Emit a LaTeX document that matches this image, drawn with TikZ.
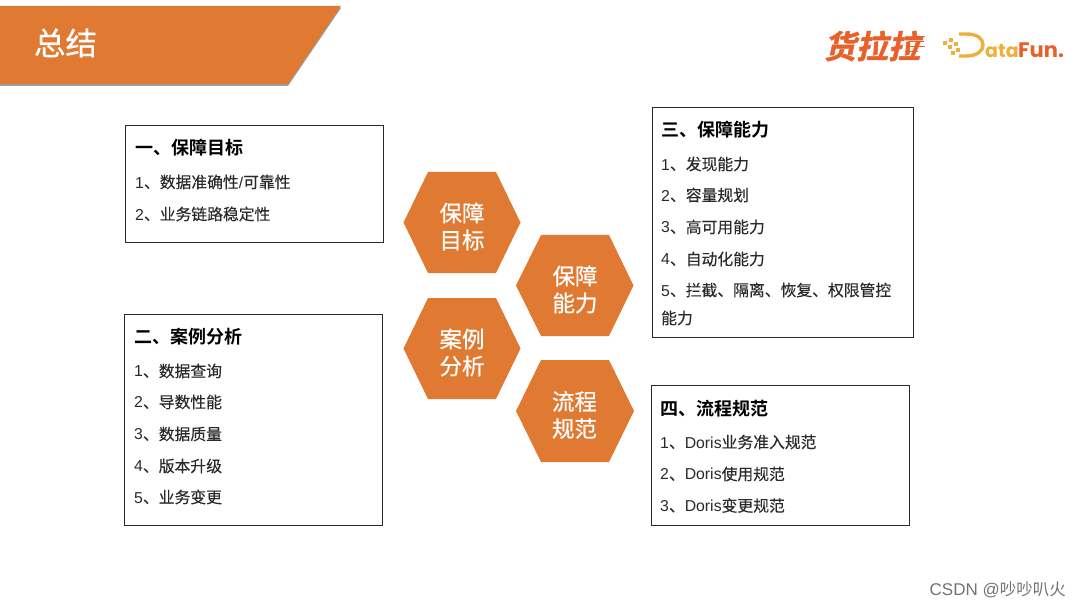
\documentclass[tikz,border=0pt]{standalone}
\usepackage{fontspec}
\setmainfont{Noto Sans CJK SC}
\newfontfamily\logofont[FakeSlant=0.22,FakeBold=1.5]{Noto Sans CJK SC Bold}
\newfontfamily\boldcjk{Noto Sans CJK SC Bold}
\newfontfamily\medcjk[FakeBold=0.6]{Noto Sans CJK SC}
\newfontfamily\itemcjk[FakeBold=0.15]{Noto Sans CJK SC}
\newfontfamily\funfont{Poppins}
\newfontfamily\lat{Liberation Sans}
\newcommand{\fs}[1]{\fontsize{#1}{#1}\selectfont}
\newcommand{\lt}[1]{{\lat #1}}
\definecolor{brandorange}{HTML}{E07A32}
\definecolor{inktext}{HTML}{2A2A2A}
\definecolor{logored}{HTML}{E8602A}
\definecolor{logogold}{HTML}{EDB03C}
\tikzset{
  infobox/.style={draw=inktext,line width=0.9pt,fill=white},
  hexa/.style={fill=brandorange,draw=none},
  headtext/.style={anchor=west,inner sep=0pt,text=black,font=\boldcjk\fs{18}},
  itemtext/.style={anchor=west,inner sep=0pt,text=inktext,font=\itemcjk\fs{15.8}},
  hextext/.style={inner sep=0pt,text=white,align=center,font=\medcjk\fontsize{22.5}{27}\selectfont},
  dotsq/.style={fill=logogold,draw=none,minimum size=3.2pt,inner sep=0pt}
}
\begin{document}
\begin{tikzpicture}[x=1pt,y=-1pt]
\useasboundingbox (0,0) rectangle (1080,607);
% banner
\fill[black!38] (0,8) -- (341,8) -- (288,86) -- (0,86) -- cycle;
\fill[brandorange] (0,6) -- (341,6) -- (288,84) -- (0,84) -- cycle;
\node[inner sep=0pt,text=white,font=\medcjk\fs{31.5}] (title) at (65.5,43) {总结};
% logos
\node[inner sep=0pt,text=logored,font=\logofont\fs{32}] (hll) at (872,46) {货拉拉};
\foreach \yy/\xa/\xb in {36/912/925,41/910/924,46/907/925,51/905/918}
  \draw[logored,line width=0.9pt] (\xa,\yy) -- (\xb,\yy);
\node[dotsq] (d1) at (945,43) {};
\node[dotsq] (d2) at (951,40) {};
\node[dotsq] (d3) at (950,47) {};
\node[dotsq] (d4) at (956,44) {};
\node[dotsq] (d5) at (953,53) {};
\node[dotsq] (d6) at (958,50) {};
\draw[logogold,line width=3.4pt] (959,34) -- (966,34) .. controls (978,34) and (983,39) .. (983,45) .. controls (983,51) and (977,56) .. (966,56) -- (959,56);
\node[anchor=base west,inner sep=0pt,text=logogold,font=\funfont\bfseries\fs{19}] (dataw) at (985,57.5) {ata};
\node[anchor=base west,inner sep=0pt,text=logored,font=\funfont\bfseries\fs{21}] (funw) at (1018,57.5) {Fun.};
% boxes
\draw[infobox] (125.7,125.7) rectangle (383,242);
\draw[infobox] (124.7,314.7) rectangle (382,525);
\draw[infobox] (652.7,107.7) rectangle (913,337);
\draw[infobox] (651.7,385.7) rectangle (909,525);
% box 1
\node[headtext] (a0) at (135,148) {一、保障目标};
\node[itemtext] (a1) at (135,182) {\lt{1}、数据准确性\lt{/}可靠性};
\node[itemtext] (a2) at (135,214) {\lt{2}、业务链路稳定性};
% box 2
\node[headtext] (b0) at (134,337) {二、案例分析};
\node[itemtext] (b1) at (134,371) {\lt{1}、数据查询};
\node[itemtext] (b2) at (134,402) {\lt{2}、导数性能};
\node[itemtext] (b3) at (134,434) {\lt{3}、数据质量};
\node[itemtext] (b4) at (134,466) {\lt{4}、版本升级};
\node[itemtext] (b5) at (134,497) {\lt{5}、业务变更};
% box 3
\node[headtext] (c0) at (661,130) {三、保障能力};
\node[itemtext] (c1) at (661,164) {\lt{1}、发现能力};
\node[itemtext] (c2) at (661,195) {\lt{2}、容量规划};
\node[itemtext] (c3) at (661,227) {\lt{3}、高可用能力};
\node[itemtext] (c4) at (661,259) {\lt{4}、自动化能力};
\node[itemtext] (c5) at (661,290) {\lt{5}、拦截、隔离、恢复、权限管控};
\node[itemtext] (c6) at (661,318) {能力};
% box 4
\node[headtext] (d0) at (660,409) {四、流程规范};
\node[itemtext] (d1x) at (660,442) {\lt{1}、\lt{Doris}业务准入规范};
\node[itemtext] (d2x) at (660,474) {\lt{2}、\lt{Doris}使用规范};
\node[itemtext] (d3x) at (660,505.5) {\lt{3}、\lt{Doris}变更规范};
% hexagons
\fill[hexa] (403.5,222.5) -- (428,172) -- (496,172) -- (520.5,222.5) -- (496,273) -- (428,273) -- cycle;
\fill[hexa] (516,285.5) -- (541,235) -- (609,235) -- (633.5,285.5) -- (609,336) -- (541,336) -- cycle;
\fill[hexa] (403.5,348.5) -- (428,298) -- (496,298) -- (520.5,348.5) -- (496,399) -- (428,399) -- cycle;
\fill[hexa] (516,411) -- (541,360) -- (609,360) -- (634,411) -- (609,462) -- (541,462) -- cycle;
\node[hextext] (h1) at (462,226.5) {保障\\目标};
\node[hextext] (h2) at (575,289.5) {保障\\能力};
\node[hextext] (h3) at (462,352.5) {案例\\分析};
\node[hextext] (h4) at (574.5,415) {流程\\规范};
% watermark
\node[anchor=east,inner sep=0pt,text=black!55,font=\fs{16.5}] (wm) at (1066,590) {{\lat\fs{17}CSDN @}吵吵叭火};
\end{tikzpicture}
\end{document}
